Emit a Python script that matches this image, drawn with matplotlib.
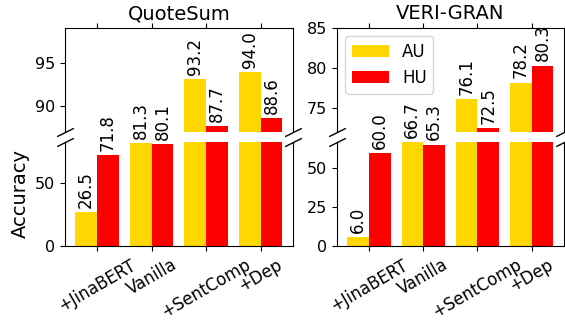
import numpy as np
import matplotlib as mpl
mpl.use('Agg')
import matplotlib.pyplot as plt

methods = ['+JinaBERT', 'Vanilla', '+SentComp', '+Dep']
quotesum_au = [26.5, 81.3, 93.2, 94.0]
quotesum_hu = [71.8, 80.1, 87.7, 88.6]
verigran_au = [6.0, 66.7, 76.1, 78.2]
verigran_hu = [60.0, 65.3, 72.5, 80.3]

AU_COLOR = '#FFD700'
HU_COLOR = '#FF0000'
width = 0.4

fig = plt.figure(figsize=(5.65, 3.22), dpi=100)

# [left, width], top ylim, bottom ylim
panels = [
    ('QuoteSum', quotesum_au, quotesum_hu, 0.115, 0.403, (87, 99.2), (0, 82.3), [90, 95], [0, 50]),
    ('VERI-GRAN', verigran_au, verigran_hu, 0.5965, 0.401, (72.1, 85), (0, 67.2), [75, 80, 85], [0, 25, 50]),
]


def label_bars(ax_top, ax_bot, xs, vals, cut):
    for x, v in zip(xs, vals):
        ax = ax_bot if v < cut else ax_top
        ax.annotate('%.1f' % v, (x, v), xytext=(0, 3), textcoords='offset points',
                    ha='center', va='bottom', rotation=90, fontsize=12,
                    annotation_clip=False, clip_on=False)


for i, (name, au, hu, left, w, top_lim, bot_lim, top_ticks, bot_ticks) in enumerate(panels):
    ax1 = fig.add_axes([left, 0.591, w, 0.323])
    ax2 = fig.add_axes([left, 0.236, w, 0.324])
    x = np.arange(len(methods))
    for ax in (ax1, ax2):
        ax.bar(x - width / 2, au, width, color=AU_COLOR, label='AU')
        ax.bar(x + width / 2, hu, width, color=HU_COLOR, label='HU')
        ax.set_xticks(x)
        ax.tick_params(labelsize=11.5)
    ax1.set_ylim(*top_lim)
    ax2.set_ylim(*bot_lim)
    ax1.set_yticks(top_ticks)
    ax2.set_yticks(bot_ticks)

    # broken axis
    ax1.spines['bottom'].set_visible(False)
    ax2.spines['top'].set_visible(False)
    ax1.xaxis.tick_top()
    ax1.tick_params(labeltop=False)
    ax2.xaxis.tick_bottom()
    ax2.set_xticklabels(methods, rotation=30, ha='center', fontsize=12)

    d = .5
    kw = dict(marker=[(-1, -d), (1, d)], markersize=12, linestyle='none',
              color='k', mec='k', mew=1, clip_on=False)
    ax1.plot([0, 1], [0, 0], transform=ax1.transAxes, **kw)
    ax2.plot([0, 1], [1, 1], transform=ax2.transAxes, **kw)

    label_bars(ax1, ax2, x - width / 2, au, bot_lim[1])
    label_bars(ax1, ax2, x + width / 2, hu, bot_lim[1])

    ax1.set_title(name, fontsize=14)
    if i == 0:
        ax2.set_ylabel('Accuracy', fontsize=14)
    else:
        ax1.legend(loc='upper left', fontsize=12, handlelength=2.2)

fig.savefig('out.png', dpi=100)
